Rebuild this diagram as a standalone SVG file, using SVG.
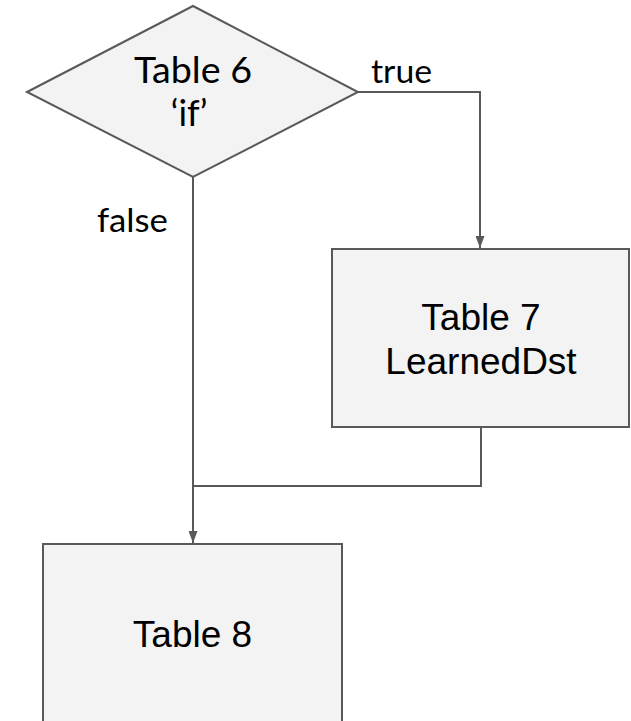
<svg xmlns="http://www.w3.org/2000/svg" width="631" height="721" viewBox="0 0 631 721">
<style>
.shape{fill:#f3f3f3;stroke:#595959;stroke-width:2}
.conn{fill:none;stroke:#595959;stroke-width:2}
.t{font-family:"Liberation Sans",Arial,sans-serif;font-size:37px;fill:#000;text-anchor:middle}
.g{font-family:Lato,"Liberation Sans",sans-serif;font-size:36px;fill:#000;text-anchor:middle}
.lbl{font-family:Lato,"Liberation Sans",sans-serif;font-size:32px;fill:#000}
</style>
<defs>
<marker id="arr" markerWidth="12" markerHeight="9" refX="12" refY="4.5" orient="auto" markerUnits="userSpaceOnUse" viewBox="0 0 12 9">
<path d="M0,0 L12,4.5 L0,9 Z" fill="#595959"/>
</marker>
</defs>
<rect width="631" height="721" fill="#fff"/>
<g id="connectors">
<polyline class="conn" points="358,92 480,92 480,248" marker-end="url(#arr)"/>
<polyline class="conn" points="193,177 193,543" marker-end="url(#arr)"/>
<polyline class="conn" points="481,427 481,486 193,486"/>
<text class="lbl" x="371" y="83" textLength="61" lengthAdjust="spacingAndGlyphs">true</text>
<text class="lbl" x="97" y="232" textLength="71" lengthAdjust="spacingAndGlyphs">false</text>
</g>
<g id="table6">
<polygon class="shape" points="27,92 193,6 358,92 193,177"/>
<text class="g" x="193" y="83" textLength="118" lengthAdjust="spacingAndGlyphs">Table 6</text>
<text class="g" x="189" y="126">‘if’</text>
</g>
<g id="table7">
<rect class="shape" x="332" y="249" width="297" height="178"/>
<text class="t" x="481" y="330">Table 7</text>
<text class="t" x="481" y="374">LearnedDst</text>
</g>
<g id="table8">
<rect class="shape" x="43" y="544" width="299" height="200"/>
<text class="t" x="192.5" y="647">Table 8</text>
</g>
</svg>
